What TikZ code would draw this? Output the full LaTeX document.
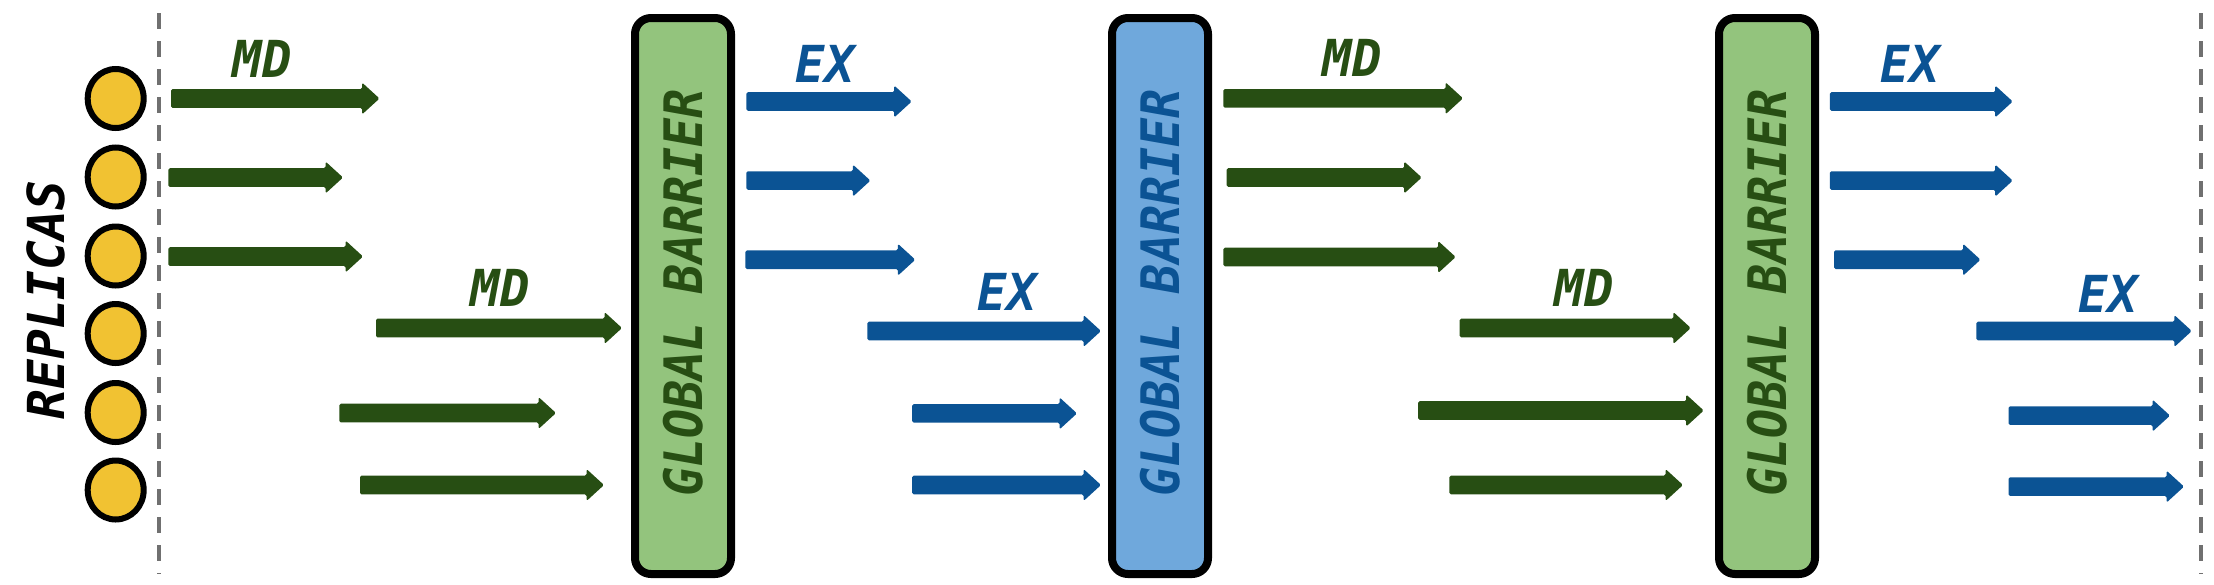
\documentclass[tikz,border=0pt]{standalone}
\usepackage{fontspec}
\newfontfamily\dvm{DejaVu Sans Mono}
\usetikzlibrary{shapes.geometric}
\definecolor{mdgreen}{RGB}{39,78,19}
\definecolor{exblue}{RGB}{11,83,148}
\definecolor{bargreen}{RGB}{147,196,125}
\definecolor{barblue}{RGB}{111,168,220}
\definecolor{repyellow}{RGB}{241,194,50}
\definecolor{dashgray}{RGB}{112,112,112}
\tikzset{
  lbl/.style={font={\dvm\bfseries\itshape\fontsize{51pt}{51pt}\selectfont}, inner sep=0pt, anchor=base},
  bartext/.style={font={\dvm\bfseries\itshape\fontsize{53pt}{53pt}\selectfont}, inner sep=0pt, rotate=90},
  barrier/.style={draw=black, line width=8pt, rounded corners=16pt, minimum width=96pt, minimum height=556pt, inner sep=0pt},
  replica/.style={ellipse, draw=black, line width=6pt, fill=repyellow, minimum width=56pt, minimum height=59pt, inner sep=0pt},
  sep/.style={draw=dashgray, line width=4.5pt, dash pattern=on 16pt off 12pt},
}
\newcommand\blockarrow[4]{%
  \fill[#1, rounded corners=1.5pt] (#2,{#4-9.3}) -- ({#3-17.5},{#4-9.3}) -- ({#3-17.5},{#4-16}) -- (#3,#4) -- ({#3-17.5},{#4+16}) -- ({#3-17.5},{#4+9.3}) -- (#2,{#4+9.3}) -- cycle;}
\begin{document}
\begin{tikzpicture}[x=1pt,y=-1pt]
\useasboundingbox (0,0) rectangle (2214,584);
% separators
\coordinate (l1) at (159,13); \coordinate (l2) at (159,574);
\coordinate (r1) at (2201,13); \coordinate (r2) at (2201,574);
\draw[sep] (l1) -- (l2);
\draw[sep] (r1) -- (r2);
% replicas
\node[lbl, anchor=center, rotate=90, text=black] (replicas) at (46,300) {\scalebox{0.97}[1]{REPLICAS}};
\foreach \y [count=\i] in {98.5,177,256,333.5,412.5,490}
  \node[replica] (rep\i) at (115.7,\y) {};
% barriers
\node[barrier, fill=bargreen] (bar1) at (683,296) {};
\node[barrier, fill=barblue] (bar2) at (1160,296) {};
\node[barrier, fill=bargreen] (bar3) at (1767,296) {};
\node[bartext, text=mdgreen] (bt1) at (683,293) {\scalebox{0.91}[1]{GLOBAL BARRIER}};
\node[bartext, text=exblue] (bt2) at (1160,293) {\scalebox{0.91}[1]{GLOBAL BARRIER}};
\node[bartext, text=mdgreen] (bt3) at (1767,293) {\scalebox{0.91}[1]{GLOBAL BARRIER}};
% group 1 MD
\blockarrow{mdgreen}{171}{379.5}{98.5}
\blockarrow{mdgreen}{168.3}{343}{177.5}
\blockarrow{mdgreen}{168.3}{363}{256.5}
\blockarrow{mdgreen}{376}{622}{328}
\blockarrow{mdgreen}{339.3}{556}{413}
\blockarrow{mdgreen}{360}{604}{485}
\node[lbl, text=mdgreen] (md1) at (262,77) {\scalebox{0.96}[1]{MD}};
\node[lbl, text=mdgreen] (md2) at (500,306) {\scalebox{0.96}[1]{MD}};
% group 2 EX
\blockarrow{exblue}{746.4}{911.7}{101.5}
\blockarrow{exblue}{746.4}{870.4}{180.6}
\blockarrow{exblue}{745.4}{915.3}{259.7}
\blockarrow{exblue}{867.3}{1101}{331}
\blockarrow{exblue}{912.2}{1077}{413.4}
\blockarrow{exblue}{912.2}{1101}{485}
\node[lbl, text=exblue] (ex1) at (825,82.7) {\scalebox{0.96}[1]{EX}};
\node[lbl, text=exblue] (ex2) at (1007,310) {\scalebox{0.96}[1]{EX}};
% group 3 MD
\blockarrow{mdgreen}{1223.3}{1463}{98.3}
\blockarrow{mdgreen}{1226.7}{1421.7}{177.5}
\blockarrow{mdgreen}{1223.3}{1455.7}{257}
\blockarrow{mdgreen}{1459.7}{1690.8}{328}
\blockarrow{mdgreen}{1418.2}{1703.7}{410.5}
\blockarrow{mdgreen}{1449.3}{1683}{485}
\node[lbl, text=mdgreen] (md3) at (1352,76.7) {\scalebox{0.96}[1]{MD}};
\node[lbl, text=mdgreen] (md4) at (1584,306.5) {\scalebox{0.96}[1]{MD}};
% group 4 EX
\blockarrow{exblue}{1829.9}{2012.7}{101.5}
\blockarrow{exblue}{1829.9}{2012.7}{180.6}
\blockarrow{exblue}{1834}{1980.5}{259.7}
\blockarrow{exblue}{1976.3}{2191.8}{331}
\blockarrow{exblue}{2008.5}{2170}{415.6}
\blockarrow{exblue}{2008.5}{2184}{486.6}
\node[lbl, text=exblue] (ex3) at (1910,82.7) {\scalebox{0.96}[1]{EX}};
\node[lbl, text=exblue] (ex4) at (2108,312.8) {\scalebox{0.96}[1]{EX}};
\end{tikzpicture}
\end{document}
